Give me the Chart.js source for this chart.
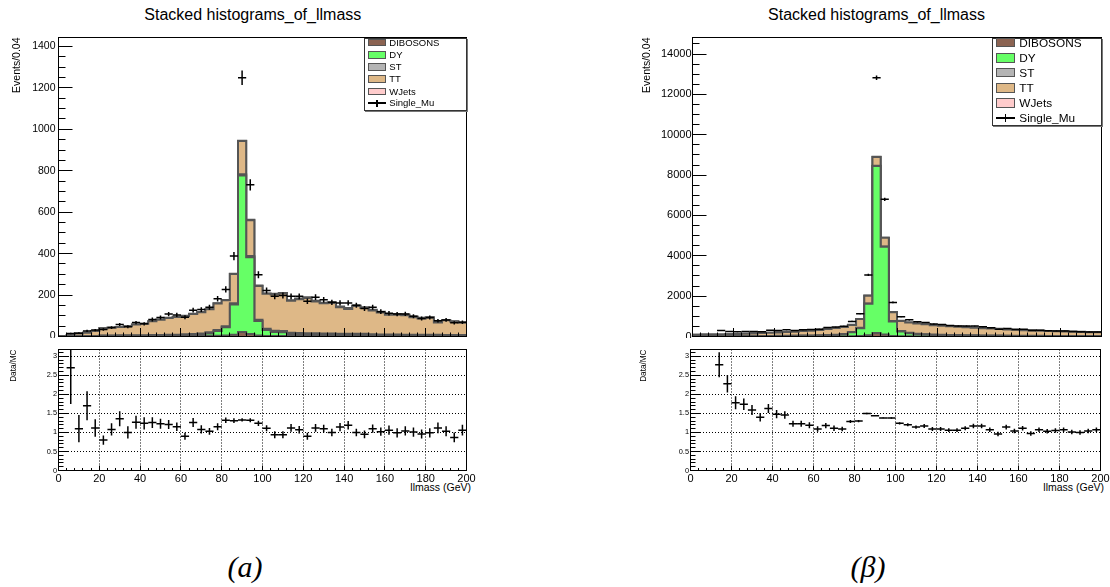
<!DOCTYPE html>
<html>
<head>
<meta charset="utf-8">
<title>Stacked histograms_of_llmass</title>
<script src="https://cdn.jsdelivr.net/npm/chart.js@4.4.1/dist/chart.umd.min.js"></script>
<style>
  html, body { margin:0; padding:0; background:#fff; }
  body { position:relative; width:1110px; height:587px; overflow:hidden; font-family:"Liberation Sans", Arial, sans-serif; color:#000; }
  .cv { position:absolute; }
  .ptitle { position:absolute; font-size:16px; line-height:16px; white-space:nowrap; transform:translateX(-50%); }
  .xtitle { position:absolute; font-size:10.5px; line-height:12px; white-space:nowrap; transform:translateX(-100%); }
  .caption { position:absolute; font-family:"Liberation Serif", "DejaVu Serif", serif; font-style:italic; font-size:30px; line-height:30px; white-space:nowrap; transform:translateX(-50%); }
  .legend { position:absolute; box-sizing:border-box; background:#fff; border:1px solid #333; box-shadow:1px 1px 0 #777; }
  .sw { position:absolute; box-sizing:border-box; border:1.5px solid #555; }
  .lt { position:absolute; white-space:nowrap; }
  .mk { position:absolute; background:#000; }
</style>
</head>
<body>
<div class="ptitle" style="left:252.8px; top:7.2px;">Stacked histograms_of_llmass</div>
<div class="ptitle" style="left:876.5px; top:7.2px;">Stacked histograms_of_llmass</div>
<div class="xtitle" style="left:471px; top:480.5px;">llmass (GeV)</div>
<div class="xtitle" style="left:1104px; top:480.5px;">llmass (GeV)</div>
<div class="caption" style="left:245px; top:552px;">(a)</div>
<div class="caption" style="left:868px; top:552px;">(β)</div>
<script>
// ---------------- data ----------------
const massBinEdges = [0,4,8,12,16,20,24,28,32,36,40,44,48,52,56,60,64,68,72,76,80,84,88,92,96,100,104,108,112,116,120,124,128,132,136,140,144,148,152,156,160,164,168,172,176,180,184,188,192,196,200];
const massBinCenters = [2,6,10,14,18,22,26,30,34,38,42,46,50,54,58,62,66,70,74,78,82,86,90,94,98,102,106,110,114,118,122,126,130,134,138,142,146,150,154,158,162,166,170,174,178,182,186,190,194,198];
const massTicks = [0,20,40,60,80,100,120,140,160,180,200];
const a_yTicks = [0,200,400,600,800,1000,1200,1400];
const b_yTicks = [0,2000,4000,6000,8000,10000,12000,14000];
const ratioTicks = [0,0.5,1,1.5,2,2.5,3];
const legendNames = ["DIBOSONS","DY","ST","TT","WJets","Single_Mu"];
const legendColors = ["#8b6352","#66ff66","#b4b4b4","#deb887","#ffcccc"];

// panel (a)
const a_dibosons = [0,0,0,0,0,1,1,1,1,1,1,1,1,1,2,2,2,2,3,4,5,8,22,12,5,3,2,2,2,2,2,2,2,2,2,2,2,2,2,1,1,1,1,1,1,1,1,1,1,1];
const a_dy = [0,1,2,2,2,3,3,3,3,3,3,3,3,4,4,5,6,8,12,22,40,147,755,370,70,28,20,18,10,9,8,8,7,7,6,6,6,6,5,5,5,5,4,4,4,4,4,3,3,3];
const a_st = [0,0,0,0,1,1,1,2,2,2,2,3,3,3,3,4,4,4,5,5,5,6,6,6,6,6,6,6,6,6,6,6,5,5,5,5,5,5,4,4,4,4,4,3,3,3,3,3,3,3];
const a_tt = [1,5,12,16,24,35,37,40,44,52,56,67,74,81,85,88,97,103,111,128,125,141,160,173,163,169,175,181,154,163,170,153,146,148,128,120,134,125,115,106,95,95,94,85,79,82,60,71,65,59];
const a_wjets = [0,0,0,0,0,0,0,0,0,0,0,0,1,1,1,1,1,1,1,1,1,1,2,2,2,2,3,3,3,3,3,3,3,3,4,4,3,3,3,3,3,3,3,3,3,3,2,2,2,2];
const a_data = [null,14,16,27,31,34,43,58,47,67,61,82,92,108,104,93,127,130,141,182,227,388,1249,732,298,222,194,198,194,194,170,190,177,165,162,162,151,135,141,120,112,108,109,98,87,92,76,80,66,69];
const a_dataErr = [null,3.7,4,5.2,5.6,5.8,6.6,7.6,6.9,8.2,7.8,9.1,9.6,10.4,10.2,9.6,11.3,11.4,11.9,13.5,15.1,19.7,35.3,27.1,17.3,14.9,13.9,14.1,13.9,13.9,13,13.8,13.3,12.8,12.7,12.7,12.3,11.6,11.9,11,10.6,10.4,10.4,9.9,9.3,9.6,8.7,8.9,8.1,8.3];
const a_ratio = [null,2.7,1.1,1.7,1.12,0.8,1.08,1.36,1.0,1.27,1.24,1.26,1.23,1.21,1.15,0.9,1.26,1.08,1.03,1.15,1.32,1.31,1.33,1.32,1.24,1.11,0.94,0.94,1.12,1.07,0.9,1.12,1.1,1.0,1.14,1.19,1.0,0.95,1.1,1.02,1.06,0.99,1.04,1.01,0.96,0.99,1.12,1.03,0.87,1.06];
const a_ratioErr = [null,0.95,0.36,0.38,0.23,0.12,0.16,0.2,0.16,0.17,0.16,0.14,0.13,0.12,0.11,0.09,0.12,0.11,0.09,0.09,0.07,0.06,0.04,0.05,0.07,0.08,0.09,0.09,0.1,0.1,0.09,0.1,0.1,0.1,0.11,0.11,0.1,0.1,0.11,0.11,0.12,0.12,0.12,0.12,0.12,0.12,0.14,0.13,0.13,0.14];

// panel (β)
const b_dibosons = [3,3,3,4,4,4,5,5,5,6,6,6,7,7,8,8,9,10,12,15,25,60,170,95,25,15,12,11,10,10,10,9,9,9,8,8,8,7,7,7,6,6,6,6,5,5,5,5,5,5];
const b_dy = [10,10,10,10,10,10,12,12,14,15,18,20,24,28,32,40,50,65,100,190,390,1560,8280,4350,720,235,150,110,85,70,60,52,46,40,36,32,30,27,24,22,20,18,17,15,14,13,12,11,10,10];
const b_st = [3,3,4,4,4,5,5,6,6,7,7,8,8,9,10,11,12,13,14,15,16,17,18,18,18,18,18,17,17,16,16,15,15,14,14,13,13,12,12,11,11,10,10,9,9,9,8,8,8,7];
const b_tt = [74,79,83,87,92,110,117,131,144,161,172,189,199,224,237,268,306,328,340,355,433,385,430,427,439,504,512,504,490,466,446,427,413,400,375,350,342,328,301,289,277,265,252,240,232,223,210,201,193,184];
const b_wjets = [0,0,0,0,0,1,1,1,1,1,2,2,2,2,3,3,3,4,4,5,6,8,12,10,8,8,8,8,8,8,8,7,7,7,7,7,7,6,6,6,6,6,5,5,5,5,5,5,4,4];
const b_data = [null,null,null,292,251,231,244,246,238,310,303,329,295,332,345,360,448,466,512,748,1131,3050,12830,6800,1690,980,825,726,693,620,590,540,520,520,515,480,428,365,400,348,355,296,310,283,278,273,242,230,229,225];
const b_dataErr = [null,null,null,17,16,15,16,16,15,18,17,18,17,18,19,19,21,22,23,27,34,55,113,82,41,31,29,27,26,25,24,23,23,23,23,22,21,19,20,19,19,17,18,17,17,17,16,15,15,15];
const b_ratio = [null,null,null,2.78,2.28,1.78,1.74,1.59,1.4,1.63,1.48,1.46,1.23,1.23,1.19,1.09,1.18,1.11,1.09,1.29,1.3,1.5,1.44,1.38,1.38,1.24,1.2,1.14,1.17,1.09,1.09,1.06,1.06,1.11,1.17,1.17,1.07,0.96,1.14,1.04,1.11,0.97,1.07,1.03,1.05,1.07,1.01,1.0,1.04,1.07];
const b_ratioErr = [null,null,null,0.33,0.23,0.17,0.15,0.13,0.11,0.12,0.11,0.1,0.08,0.08,0.08,0.07,0.07,0.07,0.06,0.04,0.03,0.02,0.01,0.01,0.02,0.03,0.04,0.04,0.05,0.05,0.05,0.05,0.05,0.05,0.06,0.06,0.06,0.06,0.06,0.06,0.06,0.06,0.06,0.06,0.06,0.06,0.06,0.06,0.06,0.06];

// ---------------- drawing ----------------
Chart.defaults.font.family = '"Liberation Sans", Arial, sans-serif';
Chart.defaults.color = '#000';

function minorTicks(max, step) {
  const out = [];
  for (let k = 0; k * step <= max + 1e-9; k++) out.push(Math.round(k * step * 1000) / 1000);
  return out;
}

const framePlugin = {
  id: 'frame',
  afterDraw(chart) {
    const {ctx, chartArea: a} = chart;
    ctx.save();
    ctx.strokeStyle = '#000';
    ctx.lineWidth = 1;
    ctx.strokeRect(a.left, a.top, a.right - a.left, a.bottom - a.top);
    ctx.restore();
  }
};

function makeCanvas(g) {
  const c = document.createElement('canvas');
  c.width = g.w; c.height = g.h; c.className = 'cv';
  Object.assign(c.style, {left: g.x + 'px', top: g.y + 'px', width: g.w + 'px', height: g.h + 'px'});
  document.body.appendChild(c);
  return c;
}

function fixSize(s, size) {
  if (s.isHorizontal()) s.height = size; else s.width = size;
  s.paddingTop = 0; s.paddingBottom = 0; s.paddingLeft = 0; s.paddingRight = 0;
}

function tickOnlyAxis(position, min, max, values, len) {
  return {
    type: 'linear', position, min, max, weight: 0, display: true, offset: false,
    ticks: {display: false, autoSkip: false},
    grid: {display: true, offset: false, drawOnChartArea: false, drawTicks: true, tickLength: -len, tickColor: '#000', tickWidth: 1, tickBorderDash: [], z: 1},
    border: {display: false},
    afterBuildTicks(s) { s.ticks = values.map(v => ({value: v})); },
    afterFit(s) { fixSize(s, 0); }
  };
}

function crossDataset(vals) {
  return {
    type: 'line', xAxisID: 'x', yAxisID: 'y',
    data: massBinCenters.map((x, i) => vals[i] == null ? null : {x, y: vals[i]}).filter(Boolean),
    showLine: false, pointStyle: 'line', pointRadius: 4.1, pointHoverRadius: 4.1,
    pointBorderWidth: 1.5, pointBorderColor: '#000', pointBackgroundColor: '#000', order: 0
  };
}
function errDataset(vals, errs) {
  return {
    type: 'bar', xAxisID: 'x', yAxisID: 'y',
    data: massBinCenters.map((x, i) => vals[i] == null ? null : {x, y: [vals[i] - errs[i], vals[i] + errs[i]]}).filter(Boolean),
    backgroundColor: '#000', borderWidth: 0, barThickness: 1.5, inflateAmount: 0, grouped: false, order: 0
  };
}

function baseOptions(g) {
  return {
    responsive: false, animation: false, devicePixelRatio: 1, events: [],
    layout: {autoPadding: false, padding: {left: 0, top: g.pt, right: g.pr, bottom: 0}},
    plugins: {legend: {display: false}, tooltip: {enabled: false}, title: {display: false}}
  };
}

function makeHistChart(g, p) {
  const c = makeCanvas(g);
  const layers = [p.dibosons, p.dy, p.st, p.tt, p.wjets];
  const tops = [];
  let run = layers[0].map(() => 0);
  layers.forEach(l => { run = run.map((v, i) => v + l[i]); tops.push(run); });
  const datasets = tops.map((t, k) => ({
    type: 'line', label: legendNames[k], xAxisID: 'x', yAxisID: 'y',
    data: massBinEdges.map((x, i) => ({x, y: t[Math.min(i, t.length - 1)]})),
    stepped: true, fill: k === 0 ? 'origin' : '-1',
    backgroundColor: legendColors[k], borderColor: '#555', borderWidth: 2,
    pointRadius: 0, pointHoverRadius: 0, order: k + 1
  }));
  datasets.push(errDataset(p.data, p.dataErr));
  datasets.push(crossDataset(p.data));
  const opts = baseOptions(g);
  opts.scales = {
    x: {
      type: 'linear', position: 'bottom', min: 0, max: 200, weight: 1, offset: false,
      ticks: {display: false, autoSkip: false},
      grid: {offset: false, drawOnChartArea: false, drawTicks: true, tickLength: -8.5, tickColor: '#000', tickWidth: 1, tickBorderDash: [], z: 1},
      border: {display: false},
      afterBuildTicks(s) { s.ticks = massTicks.map(v => ({value: v})); },
      afterFit(s) { fixSize(s, g.B); }
    },
    xMinor: tickOnlyAxis('bottom', 0, 200, massBinEdges, 4),
    y: {
      type: 'linear', position: 'left', min: 0, max: p.yMax, weight: 1,
      ticks: {autoSkip: false, padding: 14 + p.labelGap, font: {size: p.tickFont}, color: '#000', callback: v => String(v)},
      grid: {drawOnChartArea: false, drawTicks: true, tickLength: -14, tickColor: '#000', tickWidth: 1, tickBorderDash: [], z: 1},
      border: {display: false},
      title: {display: true, text: 'Events/0.04', align: 'end', font: {size: 10.5}, color: '#000', padding: {top: p.yTitlePad, bottom: 0}},
      afterBuildTicks(s) { s.ticks = p.yTicks.map(v => ({value: v})); },
      afterFit(s) { fixSize(s, g.L); }
    },
    yMinor: tickOnlyAxis('left', 0, p.yMax, minorTicks(p.yMax, p.yMinorStep), 7)
  };
  return new Chart(c, {type: 'line', data: {datasets}, options: opts, plugins: [framePlugin]});
}

function makeRatioChart(g, p) {
  const c = makeCanvas(g);
  const datasets = [errDataset(p.ratio, p.ratioErr), crossDataset(p.ratio)];
  const opts = baseOptions(g);
  opts.scales = {
    x: {
      type: 'linear', position: 'bottom', min: 0, max: 200, weight: 1, offset: false,
      ticks: {autoSkip: false, maxRotation: 0, minRotation: 0, font: {size: 11}, color: '#000', padding: 6.4, callback: v => String(v)},
      grid: {offset: false, drawOnChartArea: true, color: '#000', lineWidth: 1, drawTicks: true, tickLength: -5, tickColor: '#000', tickWidth: 1, tickBorderDash: [], z: 1},
      border: {display: false, dash: [1, 2]},
      afterBuildTicks(s) { s.ticks = massTicks.map(v => ({value: v})); },
      afterFit(s) { fixSize(s, g.B); }
    },
    xMinor: tickOnlyAxis('bottom', 0, 200, massBinEdges, 2.5),
    y: {
      type: 'linear', position: 'left', min: 0, max: 3.18, weight: 1,
      ticks: {autoSkip: false, font: {size: 7.4}, color: '#000', padding: 11.5, callback: v => String(v)},
      grid: {drawOnChartArea: true, color: '#000', lineWidth: 1, drawTicks: true, tickLength: -10, tickColor: '#000', tickWidth: 1, tickBorderDash: [], z: 1},
      border: {display: false, dash: [1, 2]},
      title: {display: true, text: 'Data/MC', align: 'end', font: {size: 8.2}, color: '#000', padding: {top: 9.1, bottom: 0}},
      afterBuildTicks(s) { s.ticks = ratioTicks.map(v => ({value: v})); },
      afterFit(s) { fixSize(s, g.L); }
    },
    yMinor: tickOnlyAxis('left', 0, 3.18, minorTicks(3.18, 0.1), 5)
  };
  return new Chart(c, {type: 'line', data: {datasets}, options: opts, plugins: [framePlugin]});
}

function buildLegend(g) {
  const box = document.createElement('div');
  box.className = 'legend';
  Object.assign(box.style, {left: g.left + 'px', top: g.top + 'px', width: g.width + 'px', height: g.height + 'px'});
  const ox = g.left + 1, oy = g.top + 1;
  legendNames.forEach((name, k) => {
    const cy = g.rows[k] - oy;
    if (k < legendColors.length) {
      const sw = document.createElement('div');
      sw.className = 'sw';
      Object.assign(sw.style, {left: (g.swX - ox) + 'px', top: (cy - g.swH / 2) + 'px', width: g.swW + 'px', height: g.swH + 'px', background: legendColors[k]});
      box.appendChild(sw);
    } else {
      const h = document.createElement('div');
      h.className = 'mk';
      Object.assign(h.style, {left: (g.swX - ox) + 'px', top: (cy - 0.75) + 'px', width: g.swW + 'px', height: '1.5px'});
      const v = document.createElement('div');
      v.className = 'mk';
      Object.assign(v.style, {left: (g.swX - ox + g.swW / 2 - 0.75) + 'px', top: (cy - g.mkH / 2) + 'px', width: '1.5px', height: g.mkH + 'px'});
      box.appendChild(h); box.appendChild(v);
    }
    const t = document.createElement('div');
    t.className = 'lt';
    t.textContent = name;
    Object.assign(t.style, {left: (g.textX - ox) + 'px', top: (cy - 0.59 * g.font) + 'px', fontSize: g.font + 'px', lineHeight: (1.2 * g.font) + 'px'});
    box.appendChild(t);
  });
  document.body.appendChild(box);
}

makeHistChart({x: 0, y: 30, w: 480, h: 308, L: 58.5, pt: 7.5, pr: 13.5, B: 1.5}, {
  dibosons: a_dibosons, dy: a_dy, st: a_st, tt: a_tt, wjets: a_wjets, data: a_data, dataErr: a_dataErr,
  yMax: 1443, yTicks: a_yTicks, yMinorStep: 50, tickFont: 10.5, labelGap: 3, yTitlePad: 10.7
});
makeRatioChart({x: 0, y: 342, w: 480, h: 150, L: 58.5, pt: 7.5, pr: 13.5, B: 21.5}, {ratio: a_ratio, ratioErr: a_ratioErr});
makeHistChart({x: 630, y: 30, w: 480, h: 308, L: 62.5, pt: 7.5, pr: 8.5, B: 1.5}, {
  dibosons: b_dibosons, dy: b_dy, st: b_st, tt: b_tt, wjets: b_wjets, data: b_data, dataErr: b_dataErr,
  yMax: 14822, yTicks: b_yTicks, yMinorStep: 500, tickFont: 11, labelGap: 1, yTitlePad: 10.4
});
makeRatioChart({x: 630, y: 342, w: 480, h: 150, L: 60.5, pt: 7.5, pr: 9.5, B: 21.5}, {ratio: b_ratio, ratioErr: b_ratioErr});

buildLegend({left: 364, top: 37.5, width: 102.5, height: 73, rows: [42.7, 55, 67, 79, 91.7, 103],
  swX: 368.3, swW: 17.4, swH: 7.5, textX: 389.3, font: 9.5, mkH: 7});
buildLegend({left: 991.7, top: 37.5, width: 110, height: 88.5, rows: [42.7, 58, 72.7, 88, 103, 118],
  swX: 995.7, swW: 19.3, swH: 9.5, textX: 1019.3, font: 11.8, mkH: 8});
</script>
</body>
</html>
